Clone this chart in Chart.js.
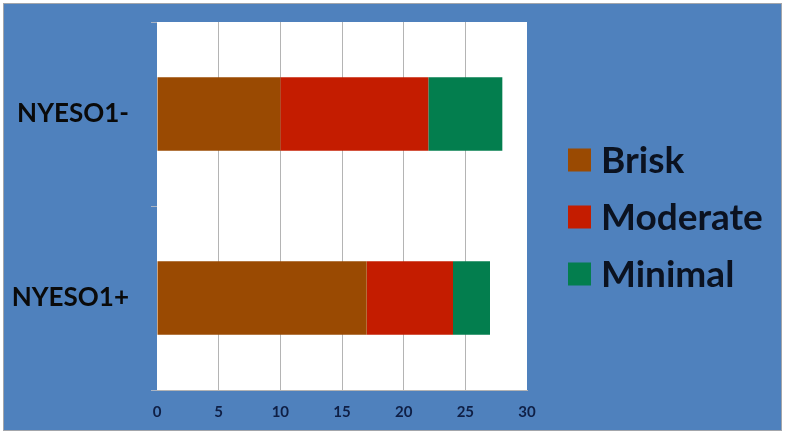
<!DOCTYPE html>
<html>
<head>
<meta charset="utf-8">
<script src="https://cdn.jsdelivr.net/npm/chart.js@4"></script>
<style>
  html, body { margin: 0; padding: 0; background: #ffffff; }
  #frame { position: absolute; left: 3px; top: 3px; width: 777px; height: 426px; border: 1px solid #a3a6ab; background: #4F81BD; }
  canvas { display: block; }
</style>
</head>
<body>
<div id="frame"><canvas id="c" width="777" height="426"></canvas></div>
<script>
const categories = ["NYESO1-", "NYESO1+"];
const seriesNames = ["Brisk", "Moderate", "Minimal"];
const brisk = [10, 17];
const moderate = [12, 7];
const minimal = [6, 3];
const xTicks = [0, 5, 10, 15, 20, 25, 30];
const seriesColors = ["#9A4A02", "#C41C00", "#037E4E"];

const FONT = "Lato, 'Open Sans', sans-serif";

const customLegend = {
  id: 'customLegend',
  afterDraw(chart) {
    const ctx = chart.ctx;
    const ds = chart.data.datasets;
    const boxX = 564, box = 23, textX = 597, firstY = 156, step = 57;
    ctx.save();
    ctx.font = "bold 37px " + FONT;
    ctx.textBaseline = 'middle';
    ctx.textAlign = 'left';
    ds.forEach((d, i) => {
      const cy = firstY + i * step;
      ctx.fillStyle = d.backgroundColor;
      ctx.fillRect(boxX, cy - box / 2, box, box);
      ctx.fillStyle = '#0b1220';
      ctx.fillText(d.label, textX, cy + 1);
    });
    ctx.restore();
  }
};

const chartArea = { left: 153, right: 523, top: 18, bottom: 386 };

new Chart(document.getElementById('c'), {
  type: 'bar',
  data: {
    labels: categories,
    datasets: [
      { label: seriesNames[0], data: brisk, backgroundColor: seriesColors[0] },
      { label: seriesNames[1], data: moderate, backgroundColor: seriesColors[1] },
      { label: seriesNames[2], data: minimal, backgroundColor: seriesColors[2] }
    ]
  },
  options: {
    indexAxis: 'y',
    responsive: false,
    animation: false,
    devicePixelRatio: 1,
    layout: { padding: { top: chartArea.top, right: 777 - chartArea.right, left: 0, bottom: 0 } },
    datasets: { bar: { categoryPercentage: 1.0, barPercentage: 0.4, borderWidth: 0 } },
    plugins: { legend: { display: false }, tooltip: { enabled: false } },
    scales: {
      x: {
        stacked: true,
        min: 0, max: 30,
        afterBuildTicks: (s) => { s.ticks = xTicks.map(v => ({ value: v })); },
        afterFit: (s) => { s.height = 426 - chartArea.bottom; s.paddingLeft = 0; s.paddingRight = 0; },
        grid: {
          drawTicks: false,
          color: (c) => (c.index === 0 || c.index === xTicks.length - 1) ? 'rgba(0,0,0,0)' : '#b4b4b4',
          lineWidth: 1
        },
        border: { display: true, color: '#b4b4b4' },
        ticks: { padding: 13, color: '#0f1f45', font: { family: FONT, size: 15, weight: 'bold' } }
      },
      y: {
        stacked: true,
        afterFit: (s) => { s.width = chartArea.left; s.paddingTop = 0; s.paddingBottom = 0; },
        grid: { drawOnChartArea: false, drawTicks: true, tickLength: 6, color: '#a9b4c4', offset: true },
        border: { display: false },
        ticks: { padding: 22, color: '#0a0a0a', font: { family: FONT, size: 26, weight: 'bold' } }
      }
    }
  },
  plugins: [customLegend, {
    id: 'whitePlot',
    beforeDraw(chart) {
      const a = chart.chartArea, ctx = chart.ctx;
      ctx.save();
      ctx.fillStyle = '#ffffff';
      ctx.fillRect(a.left, a.top, a.right - a.left, a.bottom - a.top);
      ctx.restore();
    }
  }]
});
</script>
</body>
</html>
